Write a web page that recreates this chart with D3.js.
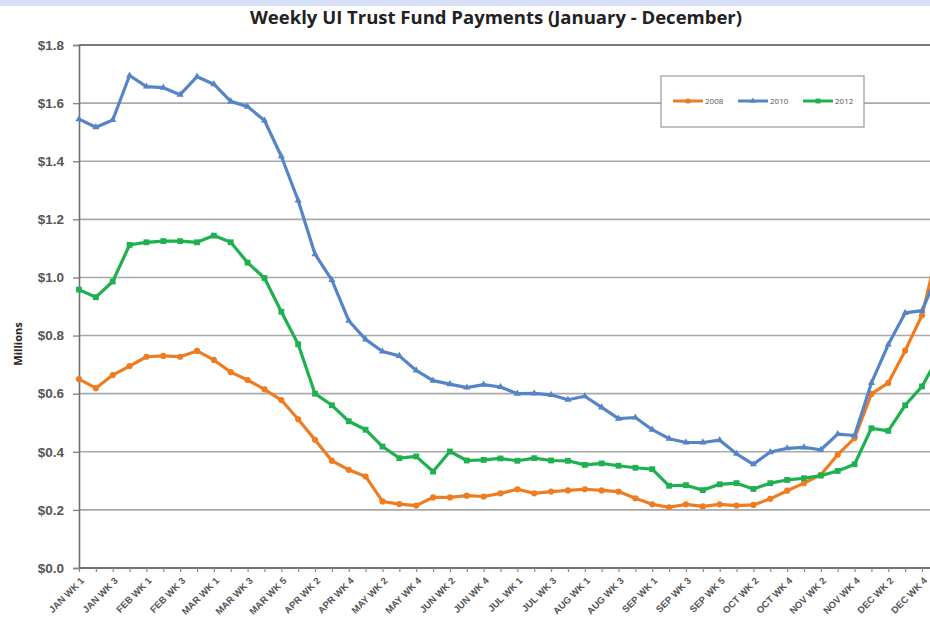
<!DOCTYPE html>
<html>
<head>
<meta charset="utf-8">
<script src="https://cdn.jsdelivr.net/npm/d3@7"></script>
<style>
  body { margin: 0; background: #fff; }
  svg { display: block; font-family: "Open Sans", sans-serif; }
</style>
</head>
<body>
<script>
const weeks = [
  'JAN WK 1', 'JAN WK 2', 'JAN WK 3', 'JAN WK 4',
  'FEB WK 1', 'FEB WK 2', 'FEB WK 3', 'FEB WK 4',
  'MAR WK 1', 'MAR WK 2', 'MAR WK 3', 'MAR WK 4', 'MAR WK 5',
  'APR WK 1', 'APR WK 2', 'APR WK 3', 'APR WK 4',
  'MAY WK 1', 'MAY WK 2', 'MAY WK 3', 'MAY WK 4',
  'JUN WK 1', 'JUN WK 2', 'JUN WK 3', 'JUN WK 4', 'JUN WK 5',
  'JUL WK 1', 'JUL WK 2', 'JUL WK 3', 'JUL WK 4',
  'AUG WK 1', 'AUG WK 2', 'AUG WK 3', 'AUG WK 4',
  'SEP WK 1', 'SEP WK 2', 'SEP WK 3', 'SEP WK 4', 'SEP WK 5',
  'OCT WK 1', 'OCT WK 2', 'OCT WK 3', 'OCT WK 4',
  'NOV WK 1', 'NOV WK 2', 'NOV WK 3', 'NOV WK 4',
  'DEC WK 1', 'DEC WK 2', 'DEC WK 3', 'DEC WK 4', 'DEC WK 5'
];

// payments in millions of dollars
const values2008 = [
  0.650, 0.619, 0.664, 0.695, 0.727, 0.730, 0.727, 0.747, 0.716, 0.674,
  0.647, 0.615, 0.578, 0.512, 0.441, 0.369, 0.338, 0.315, 0.229, 0.220,
  0.215, 0.243, 0.243, 0.249, 0.246, 0.257, 0.271, 0.257, 0.263, 0.267,
  0.271, 0.267, 0.263, 0.240, 0.219, 0.209, 0.219, 0.212, 0.219, 0.215,
  0.217, 0.238, 0.266, 0.292, 0.321, 0.390, 0.447, 0.599, 0.637, 0.748,
  0.870, 1.110
];
const values2010 = [
  1.545, 1.517, 1.542, 1.695, 1.657, 1.653, 1.629, 1.691, 1.665, 1.606,
  1.588, 1.540, 1.417, 1.265, 1.080, 0.991, 0.851, 0.787, 0.745, 0.730,
  0.680, 0.645, 0.633, 0.621, 0.631, 0.623, 0.600, 0.601, 0.596, 0.579,
  0.591, 0.553, 0.514, 0.518, 0.476, 0.445, 0.432, 0.432, 0.440, 0.393,
  0.357, 0.399, 0.412, 0.415, 0.407, 0.461, 0.456, 0.637, 0.769, 0.878,
  0.886, 1.020
];
const values2012 = [
  0.958, 0.932, 0.986, 1.112, 1.121, 1.125, 1.125, 1.121, 1.144, 1.121,
  1.051, 0.998, 0.882, 0.770, 0.600, 0.560, 0.505, 0.476, 0.418, 0.378,
  0.384, 0.332, 0.401, 0.370, 0.372, 0.377, 0.369, 0.378, 0.370, 0.369,
  0.355, 0.360, 0.352, 0.345, 0.340, 0.283, 0.285, 0.268, 0.288, 0.292,
  0.272, 0.292, 0.303, 0.309, 0.318, 0.334, 0.357, 0.481, 0.472, 0.560,
  0.625, 0.730
];
const yTicks = [0, 0.2, 0.4, 0.6, 0.8, 1.0, 1.2, 1.4, 1.6, 1.8];

const series = [
  { name: '2008', values: values2008, color: '#ee7d22', symbol: d3.symbolCircle, size: 30 },
  { name: '2010', values: values2010, color: '#5585c6', symbol: d3.symbolTriangle, size: 22 },
  { name: '2012', values: values2012, color: '#1fb050', symbol: d3.symbolSquare, size: 34 }
];

const W = 930, H = 618;
const plotLeft = 79, plotTop = 45, plotBottom = 568;
const step = 16.86;

const svg = d3.select('body').append('svg')
  .attr('width', W)
  .attr('height', H);

svg.append('rect').attr('width', W).attr('height', H).attr('fill', '#fff');
// light band along the top edge
svg.append('rect').attr('width', W).attr('height', 6).attr('fill', '#d6e0f6');

const x = d3.scalePoint()
  .domain(weeks)
  .range([plotLeft, plotLeft + step * (weeks.length - 1)]);

const y = d3.scaleLinear()
  .domain([0, 1.8])
  .range([plotBottom, plotTop]);

// gridlines
svg.append('g')
  .selectAll('line')
  .data(yTicks.filter(d => d > 0))
  .enter()
  .append('line')
  .attr('x1', plotLeft)
  .attr('x2', W)
  .attr('y1', d => y(d))
  .attr('y2', d => y(d))
  .attr('stroke', d => d === 1.8 ? '#7a7a7a' : '#a9a9a9')
  .attr('stroke-width', d => d === 1.8 ? 2 : 1.6);

// y axis
const yAxis = svg.append('g')
  .attr('transform', `translate(${plotLeft},0)`)
  .call(d3.axisLeft(y).tickValues(yTicks).tickFormat(d3.format('$.1f')).tickSize(6).tickPadding(9));
yAxis.select('.domain').attr('stroke', '#6f6f6f').attr('stroke-width', 1.6);
yAxis.selectAll('.tick line').attr('stroke', '#888').attr('stroke-width', 1.4);
yAxis.selectAll('.tick text')
  .attr('fill', '#555')
  .style('font-size', '13.5px')
  .style('font-weight', '600');

// x axis
const xAxis = svg.append('g')
  .attr('transform', `translate(0,${plotBottom})`)
  .call(d3.axisBottom(x).tickSize(4).tickFormat((d, i) => i % 2 === 0 ? d : ''));
xAxis.select('.domain').attr('stroke', '#6f6f6f').attr('stroke-width', 1.8).attr('d', `M${plotLeft},0H${W}`);
xAxis.selectAll('.tick line').attr('stroke', '#888').attr('stroke-width', 1.2);
xAxis.selectAll('.tick text')
  .attr('x', 0)
  .attr('y', 0)
  .attr('dy', '0.35em')
  .attr('transform', 'translate(3,11) rotate(-45)')
  .attr('text-anchor', 'end')
  .attr('fill', '#555')
  .style('font-size', '9.5px')
  .style('font-weight', '600');

// lines and markers
const line = d3.line()
  .x((d, i) => x(weeks[i]))
  .y(d => y(d));

series.forEach(s => {
  svg.append('path')
    .datum(s.values)
    .attr('fill', 'none')
    .attr('stroke', s.color)
    .attr('stroke-width', 3.2)
    .attr('stroke-linejoin', 'round')
    .attr('d', line);

  svg.append('g')
    .selectAll('path')
    .data(s.values)
    .enter()
    .append('path')
    .attr('transform', (d, i) => `translate(${x(weeks[i])},${y(d)})`)
    .attr('d', d3.symbol().type(s.symbol).size(s.size))
    .attr('fill', s.color);
});

// title
svg.append('text')
  .attr('x', 496)
  .attr('y', 24)
  .attr('text-anchor', 'middle')
  .attr('fill', '#222')
  .style('font-size', '18.5px')
  .style('font-weight', 'bold')
  .text('Weekly UI Trust Fund Payments (January - December)');

// y axis title
svg.append('text')
  .attr('transform', 'translate(22,344) rotate(-90)')
  .attr('text-anchor', 'middle')
  .attr('fill', '#222')
  .style('font-size', '11px')
  .style('font-weight', 'bold')
  .text('Millions');

// legend
const legend = svg.append('g').attr('transform', 'translate(661,76)');
legend.append('rect')
  .attr('width', 203)
  .attr('height', 51)
  .attr('fill', '#fff')
  .attr('stroke', '#9a9a9a')
  .attr('stroke-width', 1.2);

series.forEach((s, i) => {
  const g = legend.append('g').attr('transform', `translate(${12 + i * 65},25)`);
  g.append('line')
    .attr('x1', 0)
    .attr('x2', 30)
    .attr('stroke', s.color)
    .attr('stroke-width', 3);
  g.append('path')
    .attr('transform', 'translate(15,0)')
    .attr('d', d3.symbol().type(s.symbol).size(s.size * 0.7))
    .attr('fill', s.color);
  g.append('text')
    .attr('x', 32)
    .attr('dy', '0.35em')
    .attr('fill', '#555')
    .style('font-size', '8px')
    .text(s.name);
});
</script>
</body>
</html>
